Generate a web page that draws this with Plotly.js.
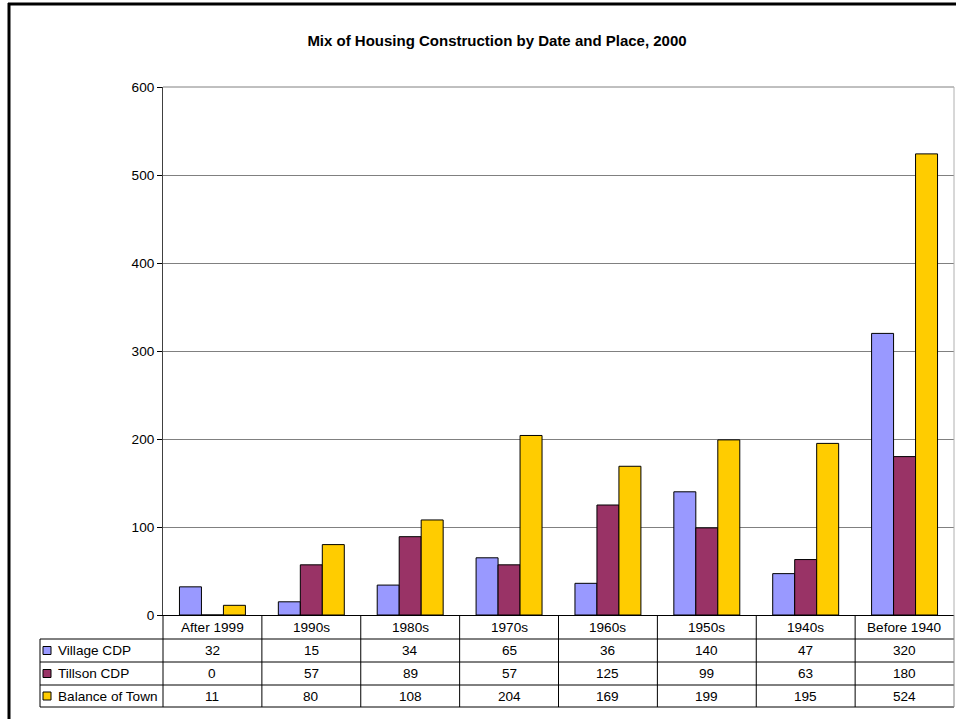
<!DOCTYPE html>
<html>
<head>
<meta charset="utf-8">
<script src="https://cdn.plot.ly/plotly-3.0.1.min.js"></script>
<style>html,body{margin:0;padding:0;background:#fff;}#chart{width:956px;height:719px;}</style>
</head>
<body>
<div id="chart"></div>
<script>
const categories = ["After 1999", "1990s", "1980s", "1970s", "1960s", "1950s", "1940s", "Before 1940"];
const seriesNames = ["Village CDP", "Tillson CDP", "Balance of Town"];
const villageCDP = [32, 15, 34, 65, 36, 140, 47, 320];
const tillsonCDP = [0, 57, 89, 57, 125, 99, 63, 180];
const balanceOfTown = [11, 80, 108, 204, 169, 199, 195, 524];
const yTicks = [0, 100, 200, 300, 400, 500, 600];
const chartTitle = "Mix of Housing Construction by Date and Place, 2000";

const seriesValues = [villageCDP, tillsonCDP, balanceOfTown];
const colors = ["#9999FF", "#993366", "#FFCC00"];

const W = 956, H = 719;
const L = 163, R = 954, T = 87, B = 615;
const pw = R - L, ph = B - T;
const px = x => (x - L) / pw;
const py = y => (B - y) / ph;
const FONT = "Liberation Sans, Arial, sans-serif";
const TF = 13.6;

const traces = seriesValues.map((vals, i) => ({
  type: "bar",
  name: seriesNames[i],
  x: categories,
  y: vals,
  marker: {color: colors[i], line: {color: "#000", width: 1}},
  hoverinfo: "x+y+name"
}));

const shapes = [];
const annotations = [];
const lineStyle = {color: "#000", width: 1};

const rowEdges = [615, 639, 662, 685, 707];
for (let r = 1; r < rowEdges.length; r++) {
  shapes.push({type: "line", xref: "paper", yref: "paper", x0: px(40), x1: px(R), y0: py(rowEdges[r]), y1: py(rowEdges[r]), line: lineStyle});
}
shapes.push({type: "line", xref: "paper", yref: "paper", x0: px(40), x1: px(40), y0: py(639), y1: py(707), line: lineStyle});
for (let i = 0; i <= categories.length; i++) {
  const xp = i / categories.length;
  shapes.push({type: "line", xref: "paper", yref: "paper", x0: xp, x1: xp, y0: py(615), y1: py(707), line: {color: i === categories.length ? "#888" : "#000", width: 1}});
}
categories.forEach((c, i) => {
  annotations.push({xref: "x", yref: "paper", x: c, y: py(627), text: c, showarrow: false, font: {family: FONT, size: TF, color: "#000"}, xanchor: "center", yanchor: "middle"});
});
seriesValues.forEach((vals, s) => {
  const ycp = (rowEdges[s + 1] + rowEdges[s + 2]) / 2;
  const yc = py(ycp);
  vals.forEach((v, i) => {
    annotations.push({xref: "x", yref: "paper", x: categories[i], y: yc, text: String(v), showarrow: false, font: {family: FONT, size: TF, color: "#000"}, xanchor: "center", yanchor: "middle"});
  });
  annotations.push({xref: "paper", yref: "paper", x: px(56), y: yc, text: seriesNames[s], showarrow: false, font: {family: FONT, size: TF, color: "#000"}, xanchor: "left", yanchor: "middle"});
  shapes.push({type: "rect", xref: "paper", yref: "paper", x0: px(43), x1: px(51), y0: py(ycp - 4), y1: py(ycp + 4), fillcolor: colors[s], line: {color: "#000", width: 1}});
});
shapes.push({type: "line", xref: "paper", yref: "paper", x0: 0, x1: 1, y0: 1, y1: 1, line: {color: "#808080", width: 1}});
shapes.push({type: "line", xref: "paper", yref: "paper", x0: 1, x1: 1, y0: 0, y1: 1, line: {color: "#b0b0b0", width: 1}});
shapes.push({type: "line", xref: "paper", yref: "paper", x0: px(9), x1: px(9), y0: py(719), y1: py(3), line: {color: "#000", width: 3}});
shapes.push({type: "line", xref: "paper", yref: "paper", x0: px(8), x1: px(956), y0: py(4), y1: py(4), line: {color: "#000", width: 3}});

const layout = {
  width: W, height: H,
  margin: {l: L, r: W - R, t: T, b: H - B, pad: 0},
  paper_bgcolor: "#fff", plot_bgcolor: "#fff",
  title: {text: "<b>" + chartTitle + "</b>", font: {family: FONT, size: 15, color: "#000"}, xref: "paper", x: px(497), xanchor: "center", yref: "container", y: 1 - 41 / H, yanchor: "middle"},
  showlegend: false,
  barmode: "group", bargap: 0.333, bargroupgap: 0,
  xaxis: {type: "category", showticklabels: false, ticks: "", showgrid: false, showline: true, linecolor: "#000", linewidth: 1, zeroline: false, fixedrange: true},
  yaxis: {range: [0, 600], tickvals: yTicks, ticktext: yTicks.map(String), ticks: "outside", ticklen: 5, tickcolor: "#000", showline: true, linecolor: "#404040", linewidth: 1, showgrid: true, gridcolor: "#808080", gridwidth: 1, zeroline: false, tickfont: {family: FONT, size: TF, color: "#000"}, fixedrange: true},
  shapes: shapes,
  annotations: annotations,
  font: {family: FONT}
};

Plotly.newPlot("chart", traces, layout, {displayModeBar: false});
</script>
</body>
</html>
